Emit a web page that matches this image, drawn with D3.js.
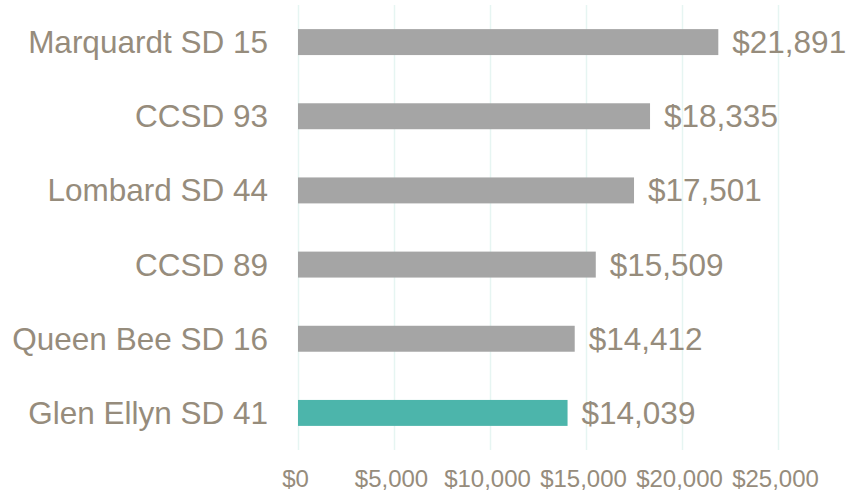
<!DOCTYPE html>
<html lang="en">
<meta charset="utf-8">
<head>
    <script src="https://d3js.org/d3.v7.min.js"></script>
    <style>
        body { margin: 0; background: #fff; }
        text { font-family: "Liberation Sans", Arial, sans-serif; fill: #968c7c; }
    </style>
</head>
<body>
<script>
    // data
    var districts = ["Marquardt SD 15", "CCSD 93", "Lombard SD 44", "CCSD 89", "Queen Bee SD 16", "Glen Ellyn SD 41"];
    var spending = [21891, 18335, 17501, 15509, 14412, 14039];
    var highlight = "Glen Ellyn SD 41";
    var tickValues = [0, 5000, 10000, 15000, 20000, 25000];

    var width = 846, height = 491;
    var data = districts.map(function(d, i) { return {name: d, value: spending[i]}; });

    var svg = d3.select("body")
        .append("svg")
        .attr("width", width)
        .attr("height", height);

    var x = d3.scaleLinear()
        .domain([0, 25000])
        .range([298, 778]);

    var y = d3.scaleBand()
        .domain(districts)
        .range([5, 450])
        .paddingInner(0.65)
        .paddingOuter(0.325);

    var fmt = d3.format("$,");

    // gridlines + tick labels
    var xaxis = svg.append("g")
        .attr("class", "xaxis")
        .attr("transform", "translate(0,450)")
        .call(d3.axisBottom(x)
            .tickValues(tickValues)
            .tickFormat(fmt)
            .tickSizeInner(-445)
            .tickSizeOuter(0)
            .tickPadding(20));
    xaxis.select(".domain").remove();
    xaxis.selectAll(".tick line")
        .attr("stroke", "#e6f5f2")
        .attr("stroke-width", 1.5);
    xaxis.selectAll(".tick text")
        .attr("x", -3)
        .style("font-size", "24px")
        .style("font-family", "'Liberation Sans', Arial, sans-serif")
        .attr("fill", "#968c7c");

    // bars
    svg.selectAll(".bar")
        .data(data)
        .enter()
        .append("rect")
        .attr("class", "bar")
        .attr("x", x(0))
        .attr("y", function(d) { return y(d.name); })
        .attr("width", function(d) { return x(d.value) - x(0); })
        .attr("height", y.bandwidth())
        .style("fill", function(d) { return d.name == highlight ? "#4cb5ab" : "#a5a5a5"; });

    // category labels
    svg.selectAll(".cat")
        .data(data)
        .enter()
        .append("text")
        .attr("class", "cat")
        .attr("x", 268)
        .attr("y", function(d) { return y(d.name) + y.bandwidth() / 2; })
        .attr("dy", "0.35em")
        .attr("text-anchor", "end")
        .style("font-size", "31.5px")
        .text(function(d) { return d.name; });

    // value labels
    svg.selectAll(".val")
        .data(data)
        .enter()
        .append("text")
        .attr("class", "val")
        .attr("x", function(d) { return x(d.value) + 14; })
        .attr("y", function(d) { return y(d.name) + y.bandwidth() / 2; })
        .attr("dy", "0.35em")
        .style("font-size", "31.5px")
        .text(function(d) { return fmt(d.value); });
</script>
</body>
</html>
